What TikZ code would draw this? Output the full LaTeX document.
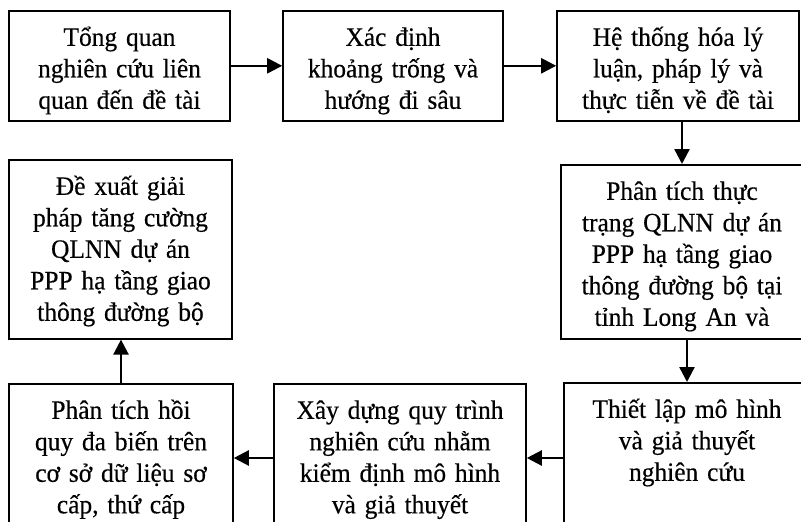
\documentclass[tikz,border=0pt]{standalone}
\usepackage{fontspec}
\setmainfont{Liberation Serif}[FakeStretch=0.96, WordSpace=0.8, FakeBold=0.4]
\usetikzlibrary{arrows.meta}

\tikzset{
  buoc/.style={draw, line width=1.6pt, align=center, anchor=north, inner xsep=4pt, inner ysep=4pt,
    text height=31pt, font=\fontsize{26.5}{31.5}\selectfont},
  muiten/.style={line width=2.4pt, -{Triangle[length=15pt,width=15pt]}}
}

\begin{document}
\begin{tikzpicture}[x=1pt, y=-1pt]
		%%%%% START %%%%%
		\useasboundingbox (0,0) rectangle (801,522);
		\clip (0,0) rectangle (801,522);
		
		\node[buoc, minimum width=221pt, text width=205pt, text depth=71pt] (tongquan) at (119.5,10) {Tổng quan\\nghiên cứu liên\\quan đến đề tài};
		\node[buoc, minimum width=220pt, text width=204pt, text depth=71pt] (xacdinh) at (393,10) {Xác định\\khoảng trống và\\hướng đi sâu};
		\node[buoc, minimum width=242pt, text width=226pt, text depth=71pt] (hethong) at (678,10) {Hệ thống hóa lý\\luận, pháp lý và\\thực tiễn về đề tài};
		
		\node[buoc, minimum width=242pt, text width=226pt, text depth=135pt] (phantich) at (682,164) {Phân tích thực\\trạng QLNN dự án\\PPP hạ tầng giao\\thông đường bộ tại\\tỉnh Long An và};
		\node[buoc, minimum width=223pt, text width=207pt, text depth=140pt] (dexuat) at (120.5,159) {Đề xuất giải\\pháp tăng cường\\QLNN dự án\\PPP hạ tầng giao\\thông đường bộ};
		
		\node[buoc, minimum width=246pt, text width=230pt, text depth=150pt] (thietlap) at (687,382) {Thiết lập mô hình\\và giả thuyết\\nghiên cứu};
		\node[buoc, minimum width=252pt, text width=236pt, text depth=150pt] (xaydung) at (400,383) {Xây dựng quy trình\\nghiên cứu nhằm\\kiểm định mô hình\\và giả thuyết};
		\node[buoc, minimum width=224pt, text width=208pt, text depth=150pt] (hoiquy) at (121,383) {Phân tích hồi\\quy đa biến trên\\cơ sở dữ liệu sơ\\cấp, thứ cấp};
		
		\coordinate (hang) at (0,458);
		
		\draw[muiten] (tongquan) -- (xacdinh);
		\draw[muiten] (xacdinh) -- (hethong);
		\draw[muiten] (phantich.north |- hethong.south) -- (phantich.north);
		\draw[muiten] (thietlap.north |- phantich.south) -- (thietlap.north);
		\draw[muiten] (thietlap.west |- hang) -- (xaydung.east |- hang);
		\draw[muiten] (xaydung.west |- hang) -- (hoiquy.east |- hang);
		\draw[muiten] (hoiquy.north) -- (hoiquy.north |- dexuat.south);
		
		%%%%% END %%%%%
\end{tikzpicture}
\end{document}
